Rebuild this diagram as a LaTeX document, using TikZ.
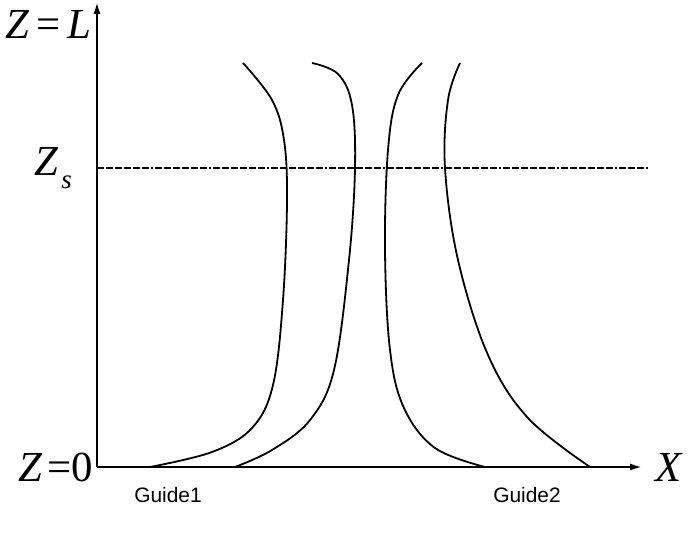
\documentclass[tikz,border=0pt]{standalone}
\usepackage{fontspec}
\setmainfont{Liberation Serif}
\newfontfamily\guidefont{Liberation Sans}
\usetikzlibrary{arrows.meta,positioning,calc}

\begin{document}
\begin{tikzpicture}[x=1bp,y=-1bp,
    axis/.style={line width=2bp,-{Latex[length=12bp,width=7bp]}},
    wall/.style={line width=1.8bp},
    cut/.style={line width=1.5bp,dash pattern=on 7bp off 2bp on 7bp off 2bp on 7bp off 2bp on 7bp off 2bp on 7bp off 2bp on 7bp off 2bp on 2bp off 2bp},
    bigmath/.style={font=\fontsize{43}{46}\selectfont,inner sep=0pt},
    guide/.style={font=\guidefont\fontsize{21}{24}\selectfont,inner sep=0pt}]

    % frame
    \useasboundingbox (0,0) rectangle (694,535);

    % axes
    \coordinate (O) at (97,467);
    \coordinate (Yend) at (97,2);
    \coordinate (Xend) at (642,467);
    \draw[axis] (O) -- (Yend);
    \draw[axis] (O) -- (Xend);

    % level Z_s
    \coordinate (Sa) at (97,168);
    \coordinate (Sb) at (648,168);
    \draw[cut] (Sa) -- (Sb);

    % labels
    \node[bigmath,anchor=east] (zl) at (92,24) {\textit{Z}\,=\,\textit{L}};
    \node[bigmath,anchor=east] (zs) at (72,168) {\textit{Z}\hspace{3bp}\raisebox{-13bp}{\fontsize{27}{28}\selectfont\textit{s}}};
    \node[bigmath,anchor=east] (z0) at (93,467) {\textit{Z}\hspace{5bp}=0};
    \node[bigmath,anchor=west] (xl) at (655,467) {\textit{X}};
    \node[guide] (g1) at (168,495) {Guide1};
    \node[guide] (g2) at (527,495) {Guide2};

    % guide walls
    \draw[wall] plot[smooth,tension=0.6] coordinates
        {(243,63) (272,100) (284,140) (287,200) (283,300) (273,385) (252,428) (212,452) (150,467)};
    \draw[wall] plot[smooth,tension=0.6] coordinates
        {(312,63) (338,74) (352,105) (355,168) (349,260) (334,370) (310,420) (272,450) (235,467)};
    \draw[wall] plot[smooth,tension=0.6] coordinates
        {(422,63) (398,95) (388,150) (385,250) (390,350) (404,408) (435,448) (485,467)};
    \draw[wall] plot[smooth,tension=0.6] coordinates
        {(460,63) (448,100) (445,168) (458,260) (488,355) (528,418) (590,467)};

\end{tikzpicture}
\end{document}
